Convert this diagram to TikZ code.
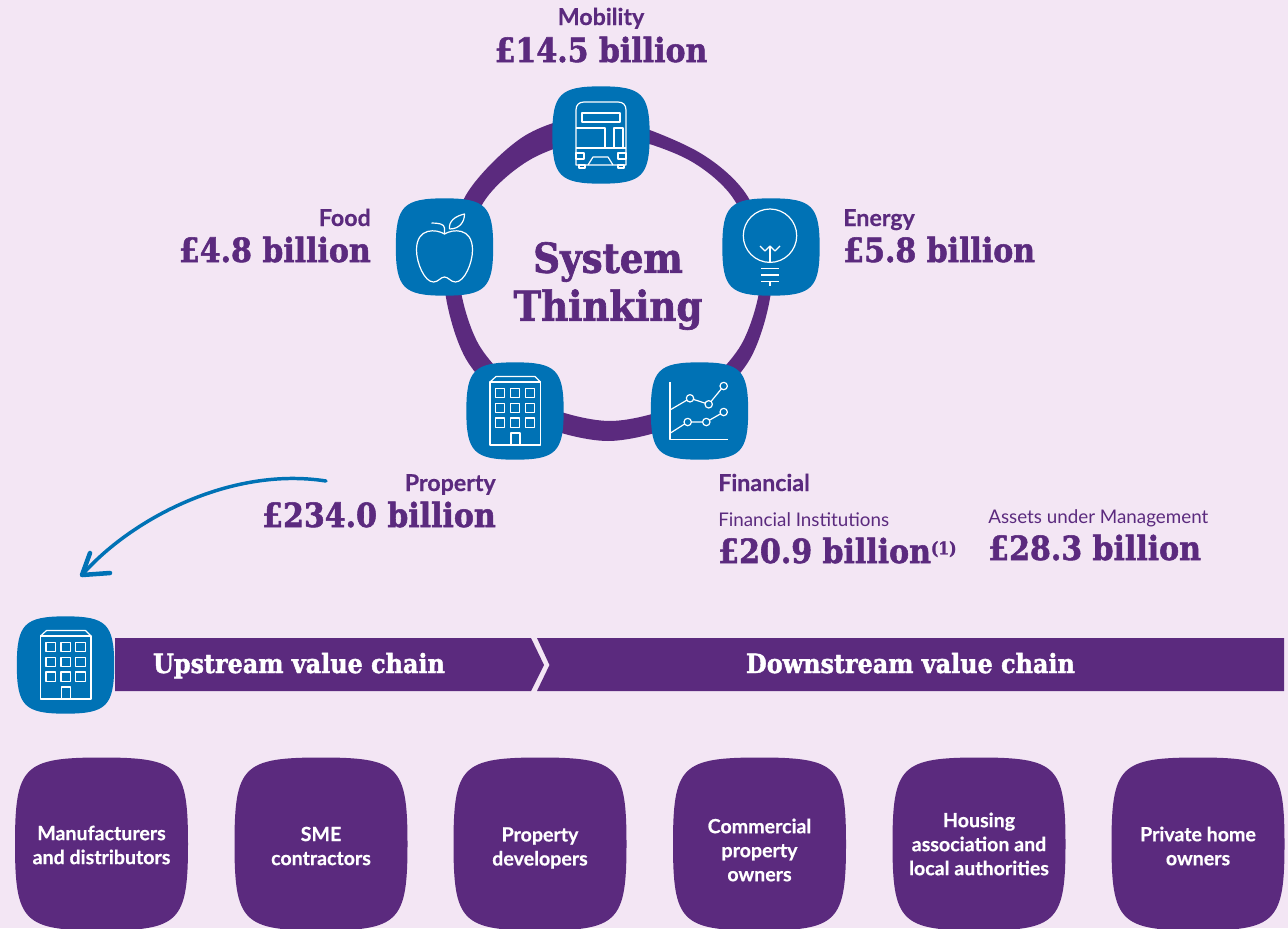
\documentclass[tikz,border=0pt]{standalone}
\usepackage{fontspec}
\setmainfont[BoldFeatures={FakeBold=0.5}]{Lato}
\newfontfamily\slabfont[BoldFeatures={FakeBold=1.6}]{DejaVu Serif Condensed}

\definecolor{pagepink}{RGB}{243,230,244}
\definecolor{chainpurple}{RGB}{91,42,126}
\definecolor{tileblue}{RGB}{0,114,181}

\newcommand{\squirclepath}[1]{(0,-1) .. controls (#1,-1) and (1,-#1) .. (1,0) .. controls (1,#1) and (#1,1) .. (0,1) .. controls (-#1,1) and (-1,#1) .. (-1,0) .. controls (-1,-#1) and (-#1,-1) .. (0,-1) -- cycle}

\tikzset{
  tile/.style={minimum size=73.5pt,inner sep=0pt},
  card/.style={minimum size=129.75pt,inner sep=0pt,align=center,text=white,font=\fontsize{14.7}{18}\selectfont\bfseries},
  iconline/.style={draw=white,line width=0.9pt,line join=round},
  sectorname/.style={text=chainpurple,inner sep=0pt,font=\fontsize{17.4}{18}\selectfont\bfseries},
  amount/.style={text=chainpurple,inner sep=0pt,font=\slabfont\fontsize{25}{26}\selectfont\bfseries},
  smalllabel/.style={text=chainpurple,inner sep=0pt,font=\fontsize{14.1}{16}\selectfont},
  chainlabel/.style={text=white,inner sep=0pt,font=\slabfont\fontsize{19.9}{22}\selectfont\bfseries},
  bus/.pic={
    \draw[iconline] (-25,30) -- (-25,-25) .. controls (-25,-30) and (-22,-33) .. (-17,-33) -- (17,-33) .. controls (22,-33) and (25,-30) .. (25,-25) -- (25,30) -- cycle;
    \draw[iconline] (-19,-22) rectangle (19,-13);
    \draw[iconline] (-25,-7) -- (4,-7) -- (4,13) -- (-25,13);
    \draw[iconline] (13,-7) rectangle (22,13);
    \draw[iconline] (4,13) -- (25,13);
    \draw[iconline] (-25,18) rectangle (-17,24);
    \draw[iconline] (25,18) rectangle (17,24);
    \draw[iconline] (-13,30) -- (-8,22) -- (7,22) -- (12,30);
    \draw[iconline] (-22,30) rectangle (-16,33);
    \draw[iconline] (17,30) rectangle (23,33);
  },
  apple/.pic={
    \draw[iconline] (0,-13) .. controls (-8,-18) and (-28,-20) .. (-28,3) .. controls (-28,16) and (-20,35) .. (-11,35) .. controls (-6,35) and (-4,30) .. (0,30) .. controls (4,30) and (6,35) .. (11,35) .. controls (20,35) and (28,16) .. (28,3) .. controls (28,-20) and (8,-18) .. (0,-13);
    \draw[iconline] (0,-13) -- (0,-19) .. controls (0,-23) and (-6,-24) .. (-13,-24);
    \draw[iconline] (5,-18) .. controls (4,-26) and (11,-31) .. (20,-33) .. controls (20,-25) and (15,-18) .. (5,-18);
  },
  bulb/.pic={
    \draw[iconline] (-1,-11.3) circle (26.7);
    \draw[iconline] (-11,-1) -- (-6,4) -- (-1,-1) -- (4,4) -- (9,-1);
    \draw[iconline] (-1,-1) -- (-1,15.4);
    \draw[iconline] (-1,34.7) -- (-1,38.7);
    \draw[iconline] (-9.7,21.3) -- (8,21.3);
    \draw[iconline] (-9.7,28) -- (8,28);
    \draw[iconline] (-9.7,34.7) -- (8,34.7);
  },
  office/.pic={
    \draw[iconline] (-25,-29) rectangle (25.5,34);
    \draw[iconline] (-25,-29) -- (-19,-34.5) -- (20,-34.5) -- (25.5,-29);
    \foreach \wx in {-19.5,-4.5,10.3} {
      \foreach \wy in {-22.5,-7.7,7} {
        \draw[iconline] (\wx,\wy) rectangle +(9.3,9.3);
      }
    }
    \draw[iconline] (-4,34) -- (-4,22) -- (5,22) -- (5,34);
  },
  chart/.pic={
    \draw[iconline] (-29.5,-29) -- (-29.5,28.5) -- (28.5,28.5);
    \draw[iconline] (-29.5,-1) -- (-9.5,-12.7) -- (9.2,-6.7) -- (24.2,-25);
    \draw[iconline] (-29.5,22.3) -- (-11.8,11) -- (6.8,11) -- (24.2,1);
    \foreach \px/\py in {-9.5/-12.7,9.2/-6.7,24.2/-25,-11.8/11,6.8/11,24.2/1} {
      \filldraw[iconline,fill=tileblue] (\px,\py) circle (3.7);
    }
  }
}

\begin{document}
\begin{tikzpicture}[x=0.75pt,y=0.75pt,yscale=-1,xscale=1]
  \useasboundingbox (0,0) rectangle (1288,928);
  \fill[pagepink] (0,0) rectangle (1288,928);

  % ring behind the tiles
  \fill[chainpurple,even odd rule] plot[smooth cycle] coordinates {(772,277) (748,197) (695,150) (600,116) (526,135) (466,195) (444,277) (466,359) (526,419) (608,441) (690,419) (750,359)}
    plot[smooth cycle] coordinates {(761,270) (733,198) (685,158) (610,136) (535,157) (485,200) (459,270) (479,345) (535,401) (610,421) (685,401) (741,345)};

  % tiles
  \foreach \tx/\ty in {601/135,444.5/247,771/247,515/411,699.5/411,65.5/665} {
    \fill[tileblue,shift={(\tx,\ty)},x=36.5pt,y=36.5pt] \squirclepath{.84};
  }
  \node[tile] (mobility) at (601,135) {};
  \node[tile] (food) at (444.5,247) {};
  \node[tile] (energy) at (771,247) {};
  \node[tile] (property) at (515,411) {};
  \node[tile] (financial) at (699.5,411) {};
  \node[tile] (chainicon) at (65.5,665) {};
  \pic[yscale=-1] at (mobility) {bus};
  \pic[yscale=-1] at (food) {apple};
  \pic[yscale=-1] at (energy) {bulb};
  \pic[yscale=-1] at (property) {office};
  \pic[yscale=-1] at (financial) {chart};
  \pic[yscale=-1] at (chainicon) {office};

  % centre
  \node[text=chainpurple,align=center,inner sep=0pt,font=\slabfont\fontsize{31}{36}\selectfont\bfseries] (system) at (608,286) {System\\Thinking};

  % sector labels
  \node[sectorname,anchor=base] (mobilityname) at (601,25) {Mobility};
  \node[amount,anchor=base] (mobilityamount) at (601,62) {£14.5 billion};
  \node[sectorname,anchor=base east] (foodname) at (371,226) {Food};
  \node[amount,anchor=base east] (foodamount) at (371,262) {£4.8 billion};
  \node[sectorname,anchor=base west] (energyname) at (843,226) {Energy};
  \node[amount,anchor=base west] (energyamount) at (843,262) {£5.8 billion};
  \node[sectorname,anchor=base east] (propertyname) at (496,491) {Property};
  \node[amount,anchor=base east] (propertyamount) at (496,527) {£234.0 billion};
  \node[sectorname,anchor=base west] (financialname) at (718,491) {Financial};
  \node[smalllabel,anchor=base west] (institutions) at (718,526) {Financial Institutions};
  \node[amount,anchor=base west] (institutionsamount) at (718,563) {£20.9 billion\raisebox{6.5pt}{\fontsize{13}{14}\selectfont (1)}};
  \node[smalllabel,anchor=base west] (assets) at (988,523) {Assets under Management};
  \node[amount,anchor=base west] (assetsamount) at (988,560) {£28.3 billion};

  % arrow down to the chain
  \coordinate (arrowstart) at (326,481);
  \coordinate (arrowtip) at (82,575);
  \coordinate (barbup) at (90,553);
  \coordinate (barbright) at (110,573);
  \draw[tileblue,line width=2.6pt,line cap=round] (arrowstart) .. controls (230,466) and (130,520) .. (arrowtip);
  \draw[tileblue,line width=3.4pt,line cap=round,line join=round] (barbup) -- (arrowtip) -- (barbright);

  % chain bars
  \fill[chainpurple] (115,638) -- (531,638) -- (544,665) -- (531,691) -- (115,691) -- cycle;
  \fill[chainpurple] (537,638) -- (1284,638) -- (1284,691) -- (537,691) -- (549.5,665) -- cycle;
  \node[chainlabel,anchor=base] (upstream) at (299,673) {Upstream value chain};
  \node[chainlabel,anchor=base] (downstream) at (910.5,673) {Downstream value chain};

  % cards
  \foreach \cx in {101.5,321,540,759.5,979,1198} {
    \fill[chainpurple,shift={(\cx,844)},x=64.875pt,y=64.875pt] \squirclepath{.9};
  }
  \node[card] (manufacturers) at (101.5,845) {Manufacturers\\and distributors};
  \node[card] (contractors) at (321,846) {SME\\contractors};
  \node[card] (developers) at (540,848) {Property\\developers};
  \node[card] (commercial) at (759.5,850) {Commercial\\property\\owners};
  \node[card] (housing) at (979,844) {Housing\\association and\\local authorities};
  \node[card] (homeowners) at (1198,846) {Private home\\owners};
\end{tikzpicture}
\end{document}
